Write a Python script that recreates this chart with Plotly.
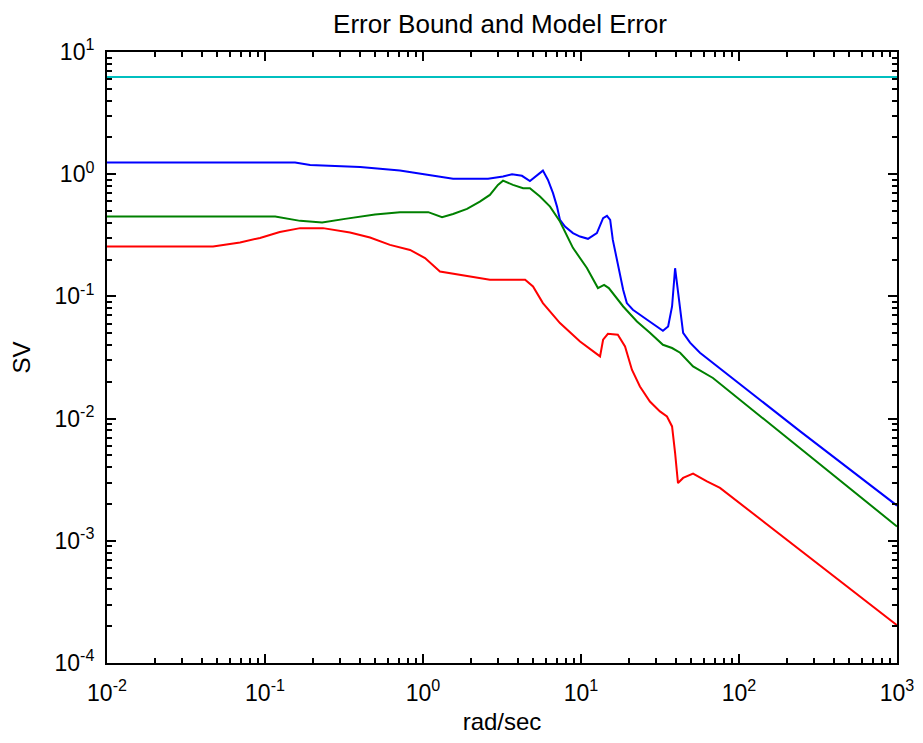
import plotly.graph_objects as go

# Frequencies (rad/sec) and singular values
freq_bound = [0.01, 1000]
sv_bound = [6.25, 6.25]

freq_blue = [0.01, 0.155, 0.193, 0.40, 0.714, 1.107, 1.55, 2.58, 3.21, 3.66, 4.23, 4.75,
             5.19, 5.74, 6.18, 6.65, 7.05, 7.36, 7.92, 8.89, 9.86, 11.07, 12.6, 13.8,
             14.6, 15.3, 15.9, 17.1, 18.5, 19.5, 21.3, 26.2, 33.0, 35.6, 37.7, 39.4,
             40.5, 42.4, 44.3, 49.0, 56.6, 243, 1000]
sv_blue = [1.244, 1.244, 1.19, 1.147, 1.07, 0.987, 0.92, 0.92, 0.956, 1.0, 0.97, 0.88,
           0.97, 1.07, 0.898, 0.70, 0.543, 0.423, 0.373, 0.33, 0.309, 0.296, 0.33, 0.437,
           0.456, 0.423, 0.29, 0.187, 0.113, 0.0881, 0.0777, 0.0644, 0.0523, 0.0567, 0.0827, 0.17,
           0.129, 0.0734, 0.0504, 0.0418, 0.0346, 0.0079, 0.00194]

freq_green = [0.01, 0.116, 0.167, 0.23, 0.321, 0.497, 0.715, 1.08, 1.32, 1.55, 1.90, 2.29,
              2.65, 2.98, 3.21, 3.71, 4.30, 4.75, 5.50, 6.37, 7.36, 8.89, 10.9, 12.8,
              14.0, 15.0, 18.5, 22.6, 27.3, 33.0, 37.7, 42.4, 51.2, 68.4, 1000]
sv_green = [0.45, 0.45, 0.415, 0.402, 0.431, 0.468, 0.489, 0.489, 0.445, 0.473, 0.52, 0.597,
            0.677, 0.818, 0.886, 0.818, 0.768, 0.768, 0.656, 0.543, 0.41, 0.2496, 0.171, 0.117,
            0.1244, 0.117, 0.0827, 0.0623, 0.0504, 0.0402, 0.0378, 0.0346, 0.0267, 0.0215, 0.00131]

freq_red = [0.01, 0.0469, 0.0695, 0.093, 0.124, 0.167, 0.233, 0.345, 0.462, 0.618, 0.828,
            1.03, 1.28, 1.48, 2.65, 4.43, 4.97, 5.74, 7.36, 9.86, 13.2, 13.8, 14.8, 17.1,
            19.0, 21.0, 23.6, 27.3, 31.6, 35.0, 37.7, 39.4, 41.1, 44.3, 51.2, 62.7, 75.8, 1000]
sv_red = [0.256, 0.256, 0.276, 0.301, 0.336, 0.362, 0.362, 0.333, 0.303, 0.264, 0.240,
          0.206, 0.160, 0.155, 0.137, 0.137, 0.1205, 0.0881, 0.0605, 0.0428, 0.0323, 0.0442, 0.0494, 0.0485,
          0.0389, 0.0251, 0.0183, 0.0138, 0.01145, 0.0104, 0.00863, 0.00524, 0.00297, 0.00327, 0.00355, 0.00307, 0.00271, 0.000204]

# Tick positions and labels
x_tickvals = [0.01, 0.1, 1, 10, 100, 1000]
x_ticktext = ["10<sup>-2</sup>", "10<sup>-1</sup>", "10<sup>0</sup>", "10<sup>1</sup>", "10<sup>2</sup>", "10<sup>3</sup>"]
y_tickvals = [1e-4, 1e-3, 1e-2, 1e-1, 1, 10]
y_ticktext = ["10<sup>-4</sup>", "10<sup>-3</sup>", "10<sup>-2</sup>", "10<sup>-1</sup>", "10<sup>0</sup>", "10<sup>1</sup>"]
minor_mult = [2, 3, 4, 5, 6, 7, 8, 9]
x_minor = [m * d for d in x_tickvals[:-1] for m in minor_mult]
y_minor = [m * d for d in y_tickvals[:-1] for m in minor_mult]

FONT = "Liberation Sans, Arial, sans-serif"

fig = go.Figure()
fig.add_trace(go.Scatter(x=freq_bound, y=sv_bound, mode="lines",
                         line=dict(color="#00BFBF", width=2), showlegend=False))
fig.add_trace(go.Scatter(x=freq_blue, y=sv_blue, mode="lines",
                         line=dict(color="#0000FF", width=2), showlegend=False))
fig.add_trace(go.Scatter(x=freq_green, y=sv_green, mode="lines",
                         line=dict(color="#008000", width=2), showlegend=False))
fig.add_trace(go.Scatter(x=freq_red, y=sv_red, mode="lines",
                         line=dict(color="#FF0000", width=2), showlegend=False))

axis_common = dict(
    type="log", showgrid=False, zeroline=False, automargin=False,
    showline=True, linecolor="#000000", linewidth=2, mirror="ticks",
    ticks="inside", ticklen=9, tickwidth=2, tickcolor="#000000",
    tickmode="array",
    tickfont=dict(family=FONT, size=23, color="#000000"),
)
minor_common = dict(ticks="inside", ticklen=5, tickwidth=2, tickcolor="#000000",
                    tickmode="array", showgrid=False)

# The page body adds an 8px margin, so the figure is sized to fit inside the window.
fig.update_layout(
    width=907, height=727,
    margin=dict(l=99, r=18, t=44, b=72),
    paper_bgcolor="white", plot_bgcolor="white",
    title=dict(text="Error Bound and Model Error", x=492 / 907, xanchor="center",
               y=1 - 16 / 727, yanchor="middle", yref="container",
               font=dict(family=FONT, size=26, color="#000000")),
    xaxis=dict(axis_common, range=[-2, 3], tickvals=x_tickvals, ticktext=x_ticktext,
               ticklabelstandoff=8, minor=dict(minor_common, tickvals=x_minor),
               title=dict(text="rad/sec", font=dict(family=FONT, size=24, color="#000000"), standoff=30)),
    yaxis=dict(axis_common, range=[-4, 1], tickvals=y_tickvals, ticktext=y_ticktext,
               ticklabelstandoff=6, minor=dict(minor_common, tickvals=y_minor),
               title=dict(text="SV", font=dict(family=FONT, size=24, color="#000000"), standoff=17)),
)

fig.write_html("out.html")
